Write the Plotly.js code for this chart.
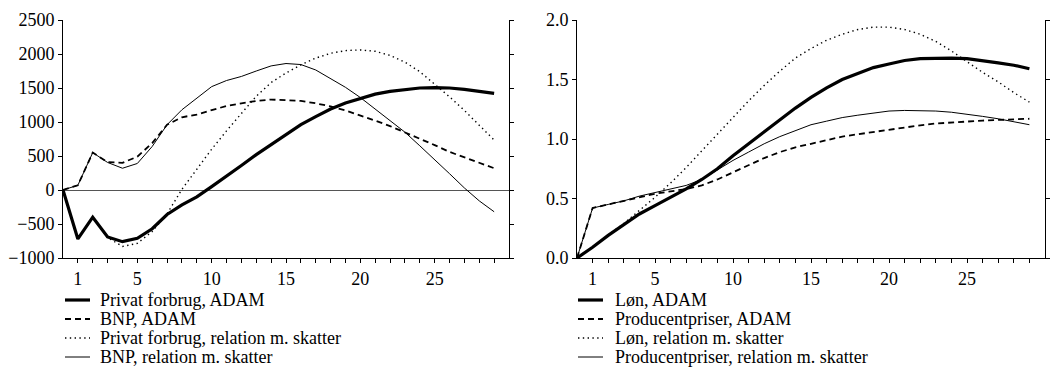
<!DOCTYPE html>
<html>
<head>
<meta charset="utf-8">
<script src="https://cdn.plot.ly/plotly-3.0.1.min.js"></script>
<style>html,body{margin:0;padding:0;background:#fff;}#chart{width:1051px;height:367px;}</style>
</head>
<body>
<div id="chart"></div>
<script>
// ---- data ----
const periods = [0,1,2,3,4,5,6,7,8,9,10,11,12,13,14,15,16,17,18,19,20,21,22,23,24,25,26,27,28,29];
const tickPeriods = [1,2,3,4,5,6,7,8,9,10,11,12,13,14,15,16,17,18,19,20,21,22,23,24,25,26,27,28,29];
const tickLabels = ["1","","","","5","","","","","10","","","","","15","","","","","20","","","","","25","","","",""];

// Left panel
const leftNames = ["Privat forbrug, ADAM","BNP, ADAM","Privat forbrug, relation m. skatter","BNP, relation m. skatter"];
const privatADAM = [0,-720,-400,-690,-760,-710,-570,-360,-220,-100,50,200,360,520,670,820,960,1080,1190,1280,1350,1410,1450,1480,1500,1505,1500,1480,1455,1420];
const bnpADAM = [0,70,550,410,400,490,690,960,1070,1110,1175,1235,1275,1310,1330,1325,1310,1275,1230,1170,1100,1020,940,850,760,660,560,480,400,320];
const privatRel = [0,-720,-400,-700,-830,-785,-610,-350,10,310,600,870,1130,1380,1580,1720,1840,1940,2010,2050,2060,2040,1980,1880,1740,1560,1370,1170,950,735];
const bnpRel = [0,70,550,405,320,390,640,960,1180,1350,1520,1610,1670,1750,1825,1860,1845,1765,1640,1510,1360,1190,1020,850,650,450,240,30,-160,-320];

// Right panel
const rightNames = ["Løn, ADAM","Producentpriser, ADAM","Løn, relation m. skatter","Producentpriser, relation m. skatter"];
const lonADAM = [0,0.09,0.19,0.28,0.37,0.44,0.51,0.58,0.66,0.75,0.86,0.96,1.06,1.16,1.26,1.35,1.43,1.50,1.55,1.60,1.63,1.66,1.675,1.68,1.68,1.675,1.66,1.64,1.62,1.59];
const prodADAM = [0,0.42,0.45,0.48,0.51,0.54,0.56,0.58,0.61,0.66,0.72,0.78,0.84,0.89,0.93,0.96,0.99,1.02,1.04,1.06,1.08,1.10,1.115,1.13,1.14,1.15,1.155,1.16,1.165,1.17];
const lonRel = [0,0.09,0.19,0.29,0.40,0.51,0.63,0.76,0.90,1.04,1.18,1.32,1.45,1.57,1.68,1.76,1.83,1.88,1.92,1.94,1.94,1.92,1.88,1.82,1.74,1.65,1.56,1.48,1.39,1.31];
const prodRel = [0,0.42,0.45,0.48,0.52,0.55,0.58,0.61,0.66,0.74,0.82,0.89,0.96,1.02,1.07,1.12,1.15,1.18,1.20,1.22,1.235,1.24,1.24,1.235,1.225,1.21,1.19,1.17,1.145,1.12];

// ---- styles ----
const W = 1051, H = 367;
const FONT = "Liberation Serif";
const FS = 18;
const styles = [
  {color:"#000", width:3.2, dash:"solid"},
  {color:"#000", width:1.8, dash:"6px,4px"},
  {color:"#000", width:1.4, dash:"1.4px,3.4px"},
  {color:"#000", width:1.0, dash:"solid"}
];

const leftSeries = [privatADAM, bnpADAM, privatRel, bnpRel];
const rightSeries = [lonADAM, prodADAM, lonRel, prodRel];
const traces = [];
leftSeries.forEach((ys,i)=>traces.push({x:periods,y:ys,type:"scatter",mode:"lines",name:leftNames[i],line:styles[i],xaxis:"x",yaxis:"y",showlegend:false}));
rightSeries.forEach((ys,i)=>traces.push({x:periods,y:ys,type:"scatter",mode:"lines",name:rightNames[i],line:styles[i],xaxis:"x2",yaxis:"y2",showlegend:false}));

const px = v => v / W;
const py = v => 1 - v / H;

function xax(domain){
  return {domain:domain, range:[0,30], tickvals:tickPeriods, ticktext:tickLabels, ticks:"outside", ticklen:4, tickcolor:"#000",
    showline:true, linecolor:"#000", linewidth:1, showgrid:false, zeroline:false, tickfont:{family:FONT,size:FS,color:"#000"}, fixedrange:true};
}
function yax(range, dtick, fmt, anchor){
  return {domain:[py(258), py(20)], range:range, dtick:dtick, tick0:range[0], tickformat:fmt, ticks:"outside", ticklen:4, tickcolor:"#000",
    showline:true, linecolor:"#000", linewidth:1, mirror:"ticks", showgrid:false, anchor:anchor,
    tickfont:{family:FONT,size:FS,color:"#000"}, fixedrange:true};
}

const layout = {
  width:W, height:H, margin:{l:0,r:0,t:0,b:0}, paper_bgcolor:"#fff", plot_bgcolor:"#fff",
  showlegend:false, font:{family:FONT,size:FS,color:"#000"},
  xaxis: xax([px(63), px(509)]),
  yaxis: Object.assign(yax([-1000,2500],500,"d","x"), {zeroline:true, zerolinecolor:"#555", zerolinewidth:1}),
  xaxis2: Object.assign(xax([px(577), px(1045)]), {anchor:"y2"}),
  yaxis2: Object.assign(yax([0,2],0.5,".1f","x2"), {zeroline:false}),
  shapes:[], annotations:[]
};
layout.xaxis.anchor = "y";

// manual legends
const rowsY = [300, 319, 338, 357];
function addLegend(names, lineX0, lineX1, textX){
  names.forEach((n,i)=>{
    layout.shapes.push({type:"line", xref:"paper", yref:"paper", x0:px(lineX0), x1:px(lineX1), y0:py(rowsY[i]), y1:py(rowsY[i]),
      line:{color:styles[i].color, width:styles[i].width, dash:styles[i].dash}});
    layout.annotations.push({xref:"paper", yref:"paper", x:px(textX), y:py(rowsY[i]), xanchor:"left", yanchor:"middle",
      text:n, showarrow:false, font:{family:FONT,size:FS,color:"#000"}, borderpad:0});
  });
}
addLegend(leftNames, 65, 90, 99);
addLegend(rightNames, 578, 603, 614);

Plotly.newPlot("chart", traces, layout, {displayModeBar:false, staticPlot:true});
</script>
</body>
</html>
